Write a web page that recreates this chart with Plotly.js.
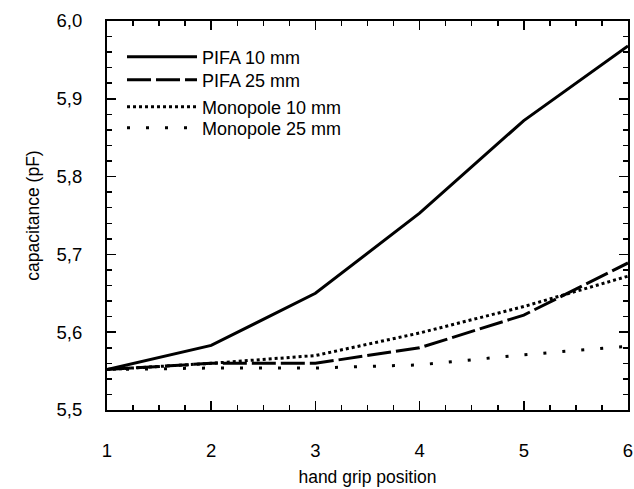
<!DOCTYPE html>
<html>
<head>
<meta charset="utf-8">
<script src="https://cdn.plot.ly/plotly-3.0.1.min.js"></script>
<style>html,body{margin:0;padding:0;background:#fff;}#chart{width:634px;height:489px;}</style>
</head>
<body>
<div id="chart"></div>
<script>
var positions = [1, 2, 3, 4, 5, 6];
var pifa10 = [5.552, 5.583, 5.650, 5.753, 5.872, 5.968];
var pifa25 = [5.552, 5.560, 5.560, 5.580, 5.622, 5.689];
var mono10 = [5.552, 5.560, 5.570, 5.599, 5.633, 5.672];
var mono25 = [5.552, 5.554, 5.554, 5.558, 5.571, 5.582];
var seriesNames = ["PIFA 10 mm", "PIFA 25 mm", "Monopole 10 mm", "Monopole 25 mm"];
var xTicks = [1, 2, 3, 4, 5, 6];
var yTicks = [5.5, 5.6, 5.7, 5.8, 5.9, 6.0];

var FONT = "Liberation Sans, Arial, sans-serif";

var traces = [
  {x: positions, y: pifa10, name: seriesNames[0], mode: "lines", legend: "legend",
   line: {color: "#000", width: 3, dash: "solid"}},
  {x: positions, y: pifa25, name: seriesNames[1], mode: "lines", legend: "legend2",
   line: {color: "#000", width: 3, dash: "24px,5px"}},
  {x: positions, y: mono10, name: seriesNames[2], mode: "lines", legend: "legend3",
   line: {color: "#000", width: 3, dash: "3px,3px"}},
  {x: positions, y: mono25, name: seriesNames[3], mode: "lines", legend: "legend4",
   line: {color: "#000", width: 3, dash: "3px,16px"}}
];

var axisCommon = {
  showgrid: false, zeroline: false, showline: true, linecolor: "#000", linewidth: 2,
  mirror: "allticks", ticks: "inside", tickcolor: "#000", tickwidth: 1.5, ticklen: 9,
  tickfont: {family: FONT, size: 18.5, color: "#000"}
};

function legendAt(yPx) {
  return {x: 0.0288, y: 1 - (yPx - 21) / 389, xanchor: "left", yanchor: "middle",
    bgcolor: "rgba(0,0,0,0)", font: {family: FONT, size: 18, color: "#000"},
    itemwidth: 70, borderwidth: 0};
}

var layout = {
  width: 634, height: 489,
  margin: {l: 107, r: 6, t: 21, b: 79},
  paper_bgcolor: "#fff", plot_bgcolor: "#fff",
  separators: ", ",
  showlegend: true,
  xaxis: Object.assign({}, axisCommon, {
    range: [1, 6], tickvals: xTicks, ticktext: xTicks.map(String),
    ticklabelstandoff: 23,
    minor: {dtick: 0.25, ticks: "inside", ticklen: 5, tickcolor: "#000", tickwidth: 1.5},
    title: {text: "hand grip position", font: {family: FONT, size: 17.5, color: "#000"}, standoff: 11}
  }),
  yaxis: Object.assign({}, axisCommon, {
    range: [5.5, 6.0], tickvals: yTicks, tickformat: ".1f",
    ticklabelstandoff: 19,
    minor: {dtick: 0.02, tick0: 5.5, ticks: "inside", ticklen: 5, tickcolor: "#000", tickwidth: 1.5},
    title: {text: "capacitance (pF)", font: {family: FONT, size: 17.5, color: "#000"}, standoff: 12}
  }),
  legend: legendAt(57),
  legend2: legendAt(80),
  legend3: legendAt(107),
  legend4: legendAt(128)
};

Plotly.newPlot("chart", traces, layout, {displayModeBar: false, staticPlot: true});
</script>
</body>
</html>
